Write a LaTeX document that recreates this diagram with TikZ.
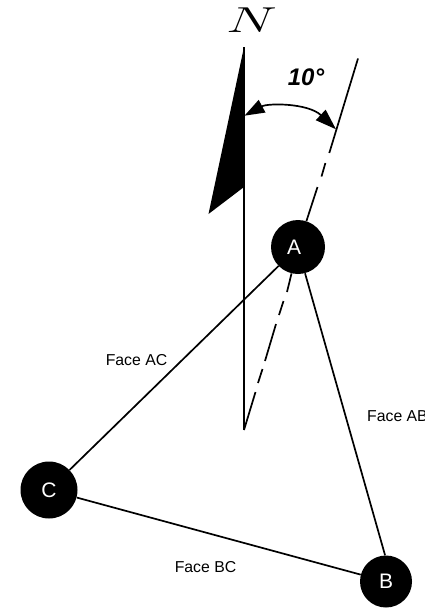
\documentclass[tikz,border=0pt]{standalone}
\usepackage{fontspec}
\setmainfont{Liberation Sans}
\usetikzlibrary{arrows.meta}
\tikzset{
  x=1pt,y=-1pt,
  ln/.style={line width=1.7pt,black},
  station/.style={circle,fill=black,text=white,inner sep=0pt,font=\fontsize{21}{21}\selectfont},
  facelabel/.style={font=\fontsize{15.8}{16}\selectfont,inner sep=0pt},
}
\begin{document}
\begin{tikzpicture}
\useasboundingbox (0,0) rectangle (425,613);
% stations
\node[station,minimum size=54pt] (A) at (298,247) {\hspace*{-8pt}A};
\node[station,minimum size=52pt] (B) at (386,581.5) {B};
\node[station,minimum size=57pt] (C) at (49,490) {C};
% faces
\draw[ln] (A.285) -- (B.92);
\draw[ln] (A) -- (C);
\draw[ln] (C) -- (B);
% north
\coordinate (Ntop) at (244,47);
\coordinate (Nbot) at (244,430);
\coordinate (Ftip) at (208.5,214);
\coordinate (Fin) at (244,187);
\coordinate (Top) at (358,58.5);
\fill[black] (Ntop) -- (Ftip) -- (Fin) -- cycle;
\draw[ln] (Ntop) -- (Nbot);
% 10 degree line, broken
\draw[ln] (Top) -- (329.3,153);
\draw[ln] (325.4,163) -- (321.5,176.5);
\draw[ln] (317.5,187) -- (A);
\draw[ln] (A) -- (287,292);
\draw[ln] (283.5,301) -- (279,315);
\draw[ln] (276,324) -- (265,361);
\draw[ln] (262.5,369) -- (258,383);
\draw[ln] (255.5,392) -- (Nbot);
% arc
\coordinate (ArcL) at (244.5,115.7);
\coordinate (ArcR) at (336,129.3);
\draw[ln,{Triangle[length=20pt,width=14pt]}-{Triangle[length=21pt,width=14pt]}]
  (ArcL) .. controls (268,103) and (308,103) .. (ArcR);
% labels
\node[inner sep=0pt] (N) at (251.5,20.5) {\scalebox{2.3}[1.45]{\fontsize{36}{36}\selectfont$N$}};
\node[font=\fontsize{24}{24}\selectfont\bfseries\itshape,inner sep=0pt] (deg) at (306,77) {10°};
\node[facelabel] (AC) at (136.5,360) {Face AC};
\node[facelabel,anchor=west] (AB) at (367,416.5) {Face AB};
\node[facelabel] (BC) at (205.5,567.5) {Face BC};
\end{tikzpicture}
\end{document}
